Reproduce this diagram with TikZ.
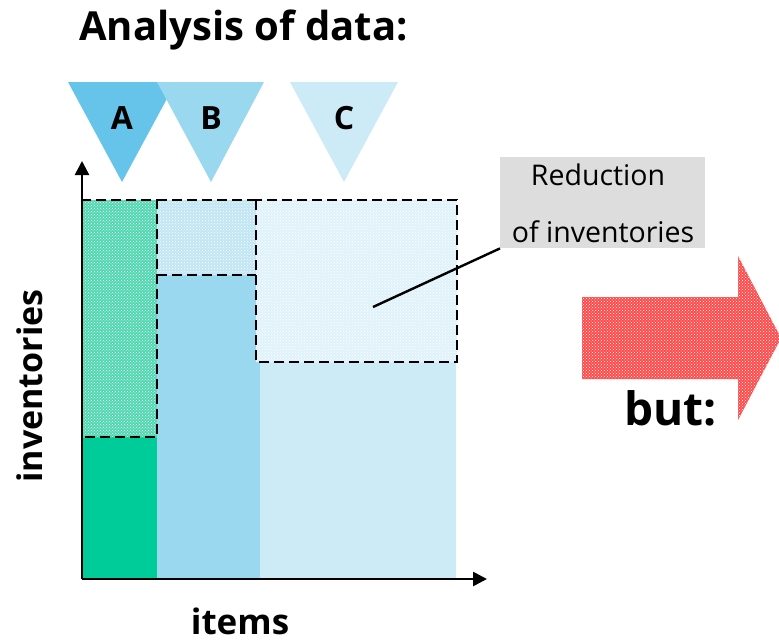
\documentclass[tikz,border=0pt]{standalone}
\usepackage{fontspec}
\setmainfont{Open Sans}
\usetikzlibrary{patterns,arrows.meta}
\definecolor{triA}{HTML}{66C4EA}
\definecolor{triB}{HTML}{99D8EF}
\definecolor{triC}{HTML}{CCEBF6}
\definecolor{barG}{HTML}{00CC99}
\definecolor{patG}{HTML}{4FD8B0}
\definecolor{patB}{HTML}{C0E5F4}
\definecolor{patC}{HTML}{DFF2FA}
\definecolor{patR}{HTML}{FF4A4A}
\definecolor{lblgray}{HTML}{DDDDDD}
\tikzset{
  dashbox/.style={draw=black, line width=2.8pt, dash pattern=on 10pt off 5pt},
  speckle/.style={pattern=crosshatch dots, pattern color=white},
  letter/.style={font=\bfseries\fontsize{32}{32}\selectfont, inner sep=0pt},
  axis/.style={line width=2.6pt, -{Triangle[length=14pt,width=14pt]}},
  lbltext/.style={font=\fontsize{28.5}{28.5}\selectfont, inner sep=0pt},
}
\begin{document}
\begin{tikzpicture}[x=1pt,y=-1pt]
\useasboundingbox (0,0) rectangle (779,642);
% title
\node[anchor=base west, font=\bfseries\fontsize{40}{40}\selectfont, inner sep=0pt] (title) at (79,41) {Analysis of data:};
% triangles
\fill[triA] (68,82) -- (176,82) -- (122,182) -- cycle;
\fill[triB] (157,82) -- (264,82) -- (211,182) -- cycle;
\fill[triC] (290,82) -- (398,82) -- (344,182) -- cycle;
\node[letter] (la) at (122,118) {A};
\node[letter] (lb) at (211,118) {B};
\node[letter] (lc) at (344,118) {C};
% bars
\fill[barG] (82,437) rectangle (157,579);
\fill[triB] (157,275) rectangle (260,579);
\fill[triC] (260,362) rectangle (456,579);
% reduction areas
\fill[patG] (82,200) rectangle (157,437);
\fill[speckle] (82,200) rectangle (157,437);
\fill[patB] (157,200) rectangle (256,275);
\fill[speckle] (157,200) rectangle (256,275);
\fill[patC] (256,200) rectangle (457,362);
\fill[speckle] (256,200) rectangle (457,362);
\draw[dashbox] (82,200) rectangle (157,437);
\draw[dashbox] (157,200) -- (256,200) (157,275) -- (256,275);
\draw[dashbox] (256,200) rectangle (457,362);
\draw[dashbox] (256,200) -- (256,275);
% axes
\coordinate (o) at (82,579);
\coordinate (ytop) at (82,161);
\coordinate (xend) at (487,579);
\draw[axis] (o) -- (ytop);
\draw[axis] (o) -- (xend);
\node[font=\bfseries\fontsize{34}{34}\selectfont, rotate=90, inner sep=0pt] (ylab) at (30,386) {inventories};
\node[font=\bfseries\fontsize{35}{35}\selectfont, inner sep=0pt] (xlab) at (240,621) {items};
% label box
\node[fill=lblgray, minimum width=205pt, minimum height=91pt, inner sep=0pt, anchor=north west] (lbl) at (500,157) {};
\node[lbltext] (l1) at (598,175) {Reduction};
\node[lbltext] (l2) at (603,232) {of inventories};
\coordinate (pt) at (373,307);
\draw[line width=2.4pt] (pt) -- (lbl.south west);
% red arrow
\fill[patR] (582,297) -- (738,297) -- (738,256) -- (781,338) -- (738,420) -- (738,379) -- (582,379) -- cycle;
\fill[speckle] (582,297) -- (738,297) -- (738,256) -- (781,338) -- (738,420) -- (738,379) -- (582,379) -- cycle;
\node[anchor=base west, font=\bfseries\fontsize{46}{46}\selectfont, inner sep=0pt] (but) at (624,425) {but:};
\end{tikzpicture}
\end{document}
